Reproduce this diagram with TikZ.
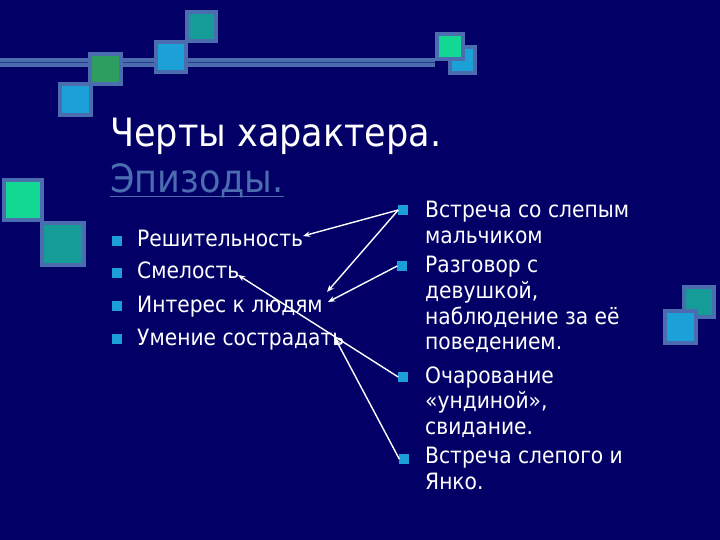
\documentclass[tikz,border=0pt]{standalone}
\usepackage{fontspec}
\setmainfont{DejaVu Sans Condensed}
\usetikzlibrary{arrows.meta}
\definecolor{bgnavy}{RGB}{2,0,102}
\definecolor{steel}{RGB}{76,108,176}
\definecolor{darkband}{RGB}{36,56,140}
\definecolor{tealsq}{RGB}{22,156,152}
\definecolor{cyansq}{RGB}{28,160,216}
\definecolor{greensq}{RGB}{46,158,96}
\definecolor{brightsq}{RGB}{18,216,148}
\definecolor{bulletc}{RGB}{28,158,216}
\tikzset{
  deco/.style={draw=steel, line width=4bp},
  bul/.style={fill=bulletc, minimum size=9.5bp, inner sep=0pt, outer sep=0pt},
  bodytxt/.style={anchor=base west, inner sep=0pt, text=white, font=\fontsize{22.5bp}{26bp}\selectfont},
  titletxt/.style={anchor=base west, inner sep=0pt, font=\fontsize{39bp}{46bp}\selectfont},
  arr/.style={draw=white, line width=1.4bp, -{Stealth[length=7bp,width=5.5bp]}}
}
\begin{document}
\begin{tikzpicture}[x=1bp,y=-1bp]
\fill[bgnavy] (0,0) rectangle (720,540);
\useasboundingbox (0,0) rectangle (720,540);
% horizontal band
\fill[steel] (0,58) rectangle (435,67);
\draw[darkband, line width=1.2bp] (0,62.5) -- (435,62.5);
% squares (outer bounds inset by half the border)
\filldraw[deco, fill=tealsq] (187,12) rectangle (216,41);
\filldraw[deco, fill=cyansq] (156,42) rectangle (186,72);
\filldraw[deco, fill=cyansq] (60,84) rectangle (91,115);
\filldraw[deco, fill=greensq] (90,54) rectangle (121,84);
\filldraw[deco, fill=cyansq] (450,47) rectangle (475,73);
\filldraw[deco, fill=brightsq] (437,34) rectangle (463,59);
\filldraw[deco, fill=brightsq] (4,180) rectangle (42,220);
\filldraw[deco, fill=tealsq] (42,223) rectangle (84,265);
\filldraw[deco, fill=tealsq] (684,287) rectangle (714,317);
\filldraw[deco, fill=cyansq] (665,311) rectangle (696,343);
% title
\node[titletxt, text=white] (t1) at (110,147) {Черты характера.};
\node[titletxt, text=steel] (t2) at (110,193) {Эпизоды.};
\draw[steel, line width=1.8bp] ([yshift=-3.5bp]t2.base west) -- ([yshift=-3.5bp]t2.base east);
% left list
\node[bul] (lb1) at (117,241) {};
\node[bul] (lb2) at (117,273) {};
\node[bul] (lb3) at (117,306) {};
\node[bul] (lb4) at (117,339) {};
\node[bodytxt] (l1) at (137,247) {Решительность};
\node[bodytxt] (l2) at (137,279) {Смелость};
\node[bodytxt] (l3) at (137,312) {Интерес к людям};
\node[bodytxt] (l4) at (137,345) {Умение сострадать};
% right list
\node[bul] (rb1) at (403,210) {};
\node[bul] (rb2) at (402,266) {};
\node[bul] (rb3) at (403,377) {};
\node[bul] (rb4) at (404,459) {};
\node[bodytxt] (r1a) at (425,218) {Встреча со слепым};
\node[bodytxt] (r1b) at (425,243.5) {мальчиком};
\node[bodytxt] (r2a) at (425,273) {Разговор с};
\node[bodytxt] (r2b) at (425,298.5) {девушкой,};
\node[bodytxt] (r2c) at (425,324) {наблюдение за её};
\node[bodytxt] (r2d) at (425,349.5) {поведением.};
\node[bodytxt] (r3a) at (425,383) {Очарование};
\node[bodytxt] (r3b) at (425,408.5) {«ундиной»,};
\node[bodytxt] (r3c) at (425,434) {свидание.};
\node[bodytxt] (r4a) at (425,463.5) {Встреча слепого и};
\node[bodytxt] (r4b) at (425,489) {Янко.};
% arrow targets
\coordinate (c1) at (303,236);
\coordinate (c2) at (327,292);
\coordinate (c3) at (328,302);
\coordinate (c4) at (238,275);
\coordinate (c5) at (335,338);
\draw[arr] (rb1.west) -- (c1);
\draw[arr] (rb1.west) -- (c2);
\draw[arr] (rb2.west) -- (c3);
\draw[arr] (rb3.west) -- (c4);
\draw[arr] (rb4.west) -- (c5);
\end{tikzpicture}
\end{document}
